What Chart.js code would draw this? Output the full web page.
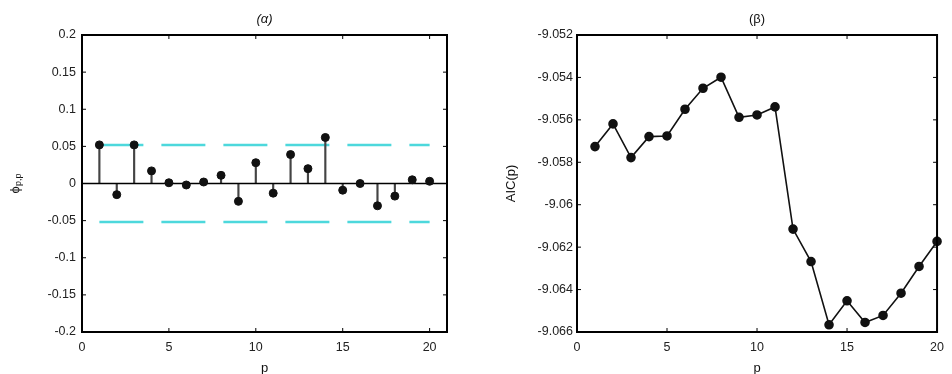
<!DOCTYPE html>
<html>
<head>
<meta charset="utf-8">
<script src="https://cdn.jsdelivr.net/npm/chart.js@4.4.1/dist/chart.umd.min.js"></script>
<style>
  body { margin: 0; background: #fff; }
  #wrap { position: relative; width: 952px; height: 374px; overflow: hidden; }
  canvas { position: absolute; top: 0; }
</style>
</head>
<body>
<div id="wrap">
  <canvas id="pacfChart" width="476" height="374" style="left:0"></canvas>
  <canvas id="aicChart" width="476" height="374" style="left:476px"></canvas>
</div>
<script>
// data
const lags = [1, 2, 3, 4, 5, 6, 7, 8, 9, 10, 11, 12, 13, 14, 15, 16, 17, 18, 19, 20];
const pacf = [0.052, -0.015, 0.052, 0.017, 0.001, -0.002, 0.002, 0.011, -0.024, 0.028,
              -0.013, 0.039, 0.020, 0.062, -0.009, 0.000, -0.030, -0.017, 0.005, 0.003];
const confBand = 0.052;
const aic = [-9.05726, -9.05619, -9.05778, -9.05679, -9.05676, -9.05550, -9.05451, -9.05399, -9.05588, -9.05577,
             -9.05539, -9.06115, -9.06268, -9.06566, -9.06453, -9.06555, -9.06522, -9.06417, -9.06291, -9.06173];
// ticks
const xTicks = [0, 5, 10, 15, 20];
const pacfTicks = [-0.2, -0.15, -0.1, -0.05, 0, 0.05, 0.1, 0.15, 0.2];
const aicTicks = [-9.066, -9.064, -9.062, -9.06, -9.058, -9.056, -9.054, -9.052];

const FONT = 'Liberation Sans, Arial, Helvetica, sans-serif';

// box frame, inward ticks, titles and axis labels (matlab look)
const matlabBox = {
  id: 'matlabBox',
  afterDraw(chart, args, opts) {
    const ctx = chart.ctx;
    const a = chart.chartArea;
    const x = chart.scales.x, y = chart.scales.y;
    ctx.save();
    ctx.strokeStyle = '#000';
    ctx.lineWidth = 1;
    ctx.beginPath();
    x.ticks.forEach(t => {
      const px = x.getPixelForValue(t.value);
      ctx.moveTo(px, a.bottom); ctx.lineTo(px, a.bottom - 4);
      ctx.moveTo(px, a.top); ctx.lineTo(px, a.top + 4);
    });
    y.ticks.forEach(t => {
      const py = y.getPixelForValue(t.value);
      ctx.moveTo(a.left, py); ctx.lineTo(a.left + 4, py);
      ctx.moveTo(a.right, py); ctx.lineTo(a.right - 4, py);
    });
    ctx.stroke();
    ctx.lineWidth = 2;
    ctx.strokeRect(a.left, a.top, a.right - a.left, a.bottom - a.top);

    ctx.fillStyle = '#111';
    // title
    ctx.textAlign = 'center';
    ctx.textBaseline = 'middle';
    ctx.font = (opts.titleItalic ? 'italic ' : '') + '13px ' + FONT;
    ctx.fillText(opts.title, (a.left + a.right) / 2, 19);
    // x label
    ctx.font = '13px ' + FONT;
    ctx.textBaseline = 'alphabetic';
    ctx.fillText(opts.xlabel, (a.left + a.right) / 2, 372);
    // y label (rotated)
    ctx.translate(opts.ylabelX, (a.top + a.bottom) / 2);
    ctx.rotate(-Math.PI / 2);
    ctx.textBaseline = 'middle';
    if (opts.ylabelSub) {
      ctx.font = '13px ' + FONT;
      const w1 = ctx.measureText(opts.ylabel).width;
      ctx.font = '9px ' + FONT;
      const w2 = ctx.measureText(opts.ylabelSub).width;
      const x0 = -(w1 + w2) / 2;
      ctx.font = '13px ' + FONT;
      ctx.textAlign = 'left';
      ctx.fillText(opts.ylabel, x0, 0);
      ctx.font = '9px ' + FONT;
      ctx.fillText(opts.ylabelSub, x0 + w1, 4);
    } else {
      ctx.font = '13px ' + FONT;
      ctx.fillText(opts.ylabel, 0, 0);
    }
    ctx.restore();
  }
};

function axisFont() {
  return { family: FONT, size: 12.5 };
}

// (α) partial autocorrelation stems
new Chart(document.getElementById('pacfChart'), {
  type: 'scatter',
  data: {
    datasets: [
      {
        type: 'scatter',
        data: lags.map((p, i) => ({ x: p, y: pacf[i] })),
        backgroundColor: '#111',
        borderColor: '#111',
        pointRadius: 4,
        order: 0
      },
      {
        type: 'line',
        data: [{ x: 0, y: 0 }, { x: 21, y: 0 }],
        borderColor: '#000',
        borderWidth: 1.5,
        pointRadius: 0,
        order: 1
      },
      {
        type: 'bar',
        data: lags.map((p, i) => ({ x: p, y: pacf[i] })),
        backgroundColor: '#444',
        barThickness: 1.5,
        order: 2
      },
      {
        type: 'line',
        data: [{ x: 1, y: confBand }, { x: 20, y: confBand }],
        borderColor: '#4dd8dc',
        borderWidth: 2.5,
        borderDash: [44, 18],
        pointRadius: 0,
        order: 3
      },
      {
        type: 'line',
        data: [{ x: 1, y: -confBand }, { x: 20, y: -confBand }],
        borderColor: '#4dd8dc',
        borderWidth: 2.5,
        borderDash: [44, 18],
        pointRadius: 0,
        order: 3
      }
    ]
  },
  plugins: [matlabBox],
  options: {
    responsive: false,
    animation: false,
    events: [],
    layout: { padding: { left: 0, right: 29, top: 35, bottom: 0 } },
    plugins: {
      legend: { display: false },
      tooltip: { enabled: false },
      matlabBox: { title: '(α)', titleItalic: true, xlabel: 'p', ylabel: 'ϕ', ylabelSub: 'p,p', ylabelX: 15 }
    },
    scales: {
      x: {
        type: 'linear', min: 0, max: 21, offset: false,
        grid: { display: false, drawTicks: false, offset: false },
        border: { display: false },
        afterBuildTicks: s => { s.ticks = xTicks.map(v => ({ value: v })); },
        afterFit: s => { s.height = 42; },
        ticks: { color: '#222', font: axisFont(), padding: 8, maxRotation: 0 }
      },
      y: {
        type: 'linear', min: -0.2, max: 0.2,
        grid: { display: false, drawTicks: false },
        border: { display: false },
        afterBuildTicks: s => { s.ticks = pacfTicks.map(v => ({ value: v })); },
        afterFit: s => { s.width = 82; },
        ticks: { color: '#222', font: axisFont(), padding: 6, callback: v => String(v) }
      }
    }
  }
});

// (β) AIC by order
new Chart(document.getElementById('aicChart'), {
  type: 'line',
  data: {
    datasets: [{
      data: lags.map((p, i) => ({ x: p, y: aic[i] })),
      borderColor: '#111',
      borderWidth: 1.6,
      backgroundColor: '#111',
      pointRadius: 4,
      clip: false
    }]
  },
  plugins: [matlabBox],
  options: {
    responsive: false,
    animation: false,
    events: [],
    layout: { padding: { left: 0, right: 9, top: 35, bottom: 0 } },
    plugins: {
      legend: { display: false },
      tooltip: { enabled: false },
      matlabBox: { title: '(β)', titleItalic: false, xlabel: 'p', ylabel: 'AIC(p)', ylabelX: 35 }
    },
    scales: {
      x: {
        type: 'linear', min: 0, max: 20,
        grid: { display: false, drawTicks: false },
        border: { display: false },
        afterBuildTicks: s => { s.ticks = xTicks.map(v => ({ value: v })); },
        afterFit: s => { s.height = 42; },
        ticks: { color: '#222', font: axisFont(), padding: 8, maxRotation: 0 }
      },
      y: {
        type: 'linear', min: -9.066, max: -9.052,
        grid: { display: false, drawTicks: false },
        border: { display: false },
        afterBuildTicks: s => { s.ticks = aicTicks.map(v => ({ value: v })); },
        afterFit: s => { s.width = 101; },
        ticks: { color: '#222', font: axisFont(), padding: 4, callback: v => String(v) }
      }
    }
  }
});
</script>
</body>
</html>
